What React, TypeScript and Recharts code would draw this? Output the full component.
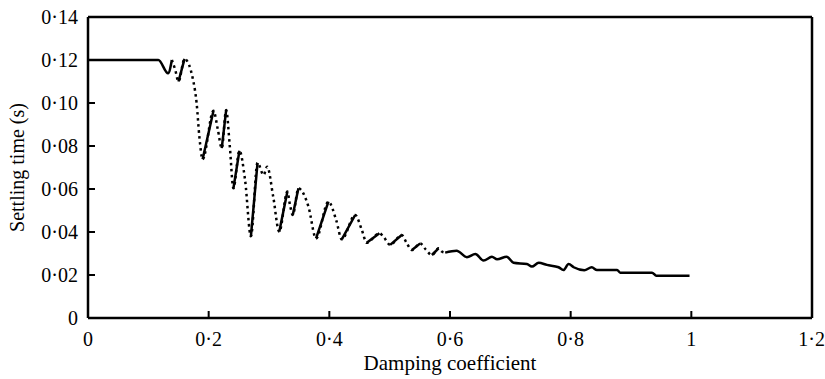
import { LineChart, Line, XAxis, YAxis, ReferenceLine } from "recharts";

// damping coefficient (x) and settling time in seconds (y)
const damping = [
  0, 0.05, 0.1166, 0.1327, 0.139, 0.1445, 0.15, 0.16, 0.1747, 0.18, 0.1846, 0.19,
  0.208, 0.215, 0.2217, 0.229, 0.235, 0.241, 0.251, 0.2604, 0.27, 0.281, 0.291,
  0.297, 0.307, 0.317, 0.3305, 0.3345, 0.3394, 0.3488, 0.3654, 0.378, 0.3985,
  0.4113, 0.4207, 0.4428, 0.4539, 0.462, 0.483, 0.4897, 0.5008, 0.52, 0.5285,
  0.537, 0.5506, 0.56, 0.57, 0.581, 0.586, 0.592, 0.611, 0.628, 0.642, 0.6556,
  0.6695, 0.678, 0.694, 0.7053, 0.7275, 0.7357, 0.747, 0.7606, 0.78, 0.788,
  0.7966, 0.805, 0.8226, 0.835, 0.8436, 0.877, 0.882, 0.9348, 0.942, 0.997,
];

const settling = [
  0.12, 0.12, 0.12, 0.1138, 0.12, 0.1155, 0.11, 0.1205, 0.11, 0.1, 0.0843, 0.0738,
  0.0964, 0.088, 0.079, 0.0967, 0.08, 0.0603, 0.0778, 0.064, 0.038, 0.0722, 0.0665,
  0.0704, 0.0564, 0.0401, 0.0588, 0.053, 0.0479, 0.0603, 0.0518, 0.037, 0.0541,
  0.0456, 0.0366, 0.0479, 0.0409, 0.035, 0.0394, 0.0378, 0.034, 0.0386, 0.0347,
  0.0316, 0.0347, 0.0318, 0.0293, 0.0324, 0.031, 0.0304, 0.0313, 0.0283, 0.0298,
  0.0267, 0.0285, 0.0273, 0.0285, 0.0257, 0.0251, 0.0239, 0.0257, 0.0247, 0.0236,
  0.0223, 0.0251, 0.0236, 0.0222, 0.0236, 0.0223, 0.0223, 0.0211, 0.0211, 0.0197,
  0.0197,
];

// style of the segment that starts at each point: "s" solid, "d" dotted
const segStyle = [
  "s", "s", "s", "s", "d", "d", "s", "d", "d", "d", "d", "s",
  "d", "d", "s", "d", "d", "s", "d", "d", "s", "d", "d",
  "d", "d", "s", "d", "d", "s", "d", "d", "s", "d",
  "d", "s", "d", "d", "s", "d", "d", "s", "d", "d",
  "s", "d", "d", "s", "d", "d", "s", "s", "s", "s", "s",
  "s", "s", "s", "s", "s", "s", "s", "s", "s", "s",
  "s", "s", "s", "s", "s", "s", "s", "s", "s", "s",
];

const xTicks = [0, 0.2, 0.4, 0.6, 0.8, 1, 1.2];
const xTickLabels = ["0", "0·2", "0·4", "0·6", "0·8", "1", "1·2"];
const yTicks = [0, 0.02, 0.04, 0.06, 0.08, 0.1, 0.12, 0.14];
const yTickLabels = ["0", "0·02", "0·04", "0·06", "0·08", "0·10", "0·12", "0·14"];

const chartData = damping.map((x, i) => {
  const before = i > 0 ? segStyle[i - 1] : null;
  const after = i < damping.length - 1 ? segStyle[i] : null;
  return {
    damping: x,
    solid: before === "s" || after === "s" ? settling[i] : null,
    dotted: before === "d" || after === "d" ? settling[i] : null,
  };
});

const font = '"Liberation Serif", "Times New Roman", serif';
const tickStyle = { fill: "#000", fontSize: 20, fontFamily: font };

export default function App() {
  return (
    <div style={{ position: "fixed", left: 0, top: 0, width: 825, height: 379, background: "#fff" }}>
      <LineChart
        width={825}
        height={379}
        data={chartData}
        margin={{ top: 17, right: 13, left: 0, bottom: 0 }}
      >
        <XAxis
          type="number"
          dataKey="damping"
          domain={[0, 1.2]}
          ticks={xTicks}
          tickFormatter={(v: number) => xTickLabels[xTicks.indexOf(v)] ?? String(v)}
          height={61}
          tickSize={-7}
          tickMargin={21}
          tick={tickStyle}
          axisLine={{ stroke: "#000", strokeWidth: 2.5 }}
          tickLine={{ stroke: "#000", strokeWidth: 2 }}
          label={{
            value: "Damping coefficient",
            position: "insideBottom",
            offset: 9,
            style: { fill: "#000", fontSize: 21, fontFamily: font },
          }}
        />
        <YAxis
          type="number"
          domain={[0, 0.14]}
          ticks={yTicks}
          tickFormatter={(v: number) => yTickLabels[yTicks.indexOf(v)] ?? String(v)}
          width={88}
          tickSize={-7}
          tickMargin={17}
          tick={tickStyle}
          axisLine={{ stroke: "#000", strokeWidth: 2.5 }}
          tickLine={{ stroke: "#000", strokeWidth: 2 }}
          label={{
            value: "Settling time (s)",
            angle: -90,
            position: "insideLeft",
            offset: 17,
            style: { fill: "#000", fontSize: 20, fontFamily: font, textAnchor: "middle" },
          }}
        />
        <ReferenceLine y={0.14} stroke="#000" strokeWidth={2.5} />
        <ReferenceLine x={1.2} stroke="#000" strokeWidth={2.5} />
        <Line
          type="monotone"
          dataKey="solid"
          stroke="#000"
          strokeWidth={2.5}
          dot={false}
          activeDot={false}
          isAnimationActive={false}
        />
        <Line
          type="monotone"
          dataKey="dotted"
          stroke="#000"
          strokeWidth={2.5}
          strokeDasharray="2.5 3.5"
          dot={false}
          activeDot={false}
          isAnimationActive={false}
        />
      </LineChart>
    </div>
  );
}
